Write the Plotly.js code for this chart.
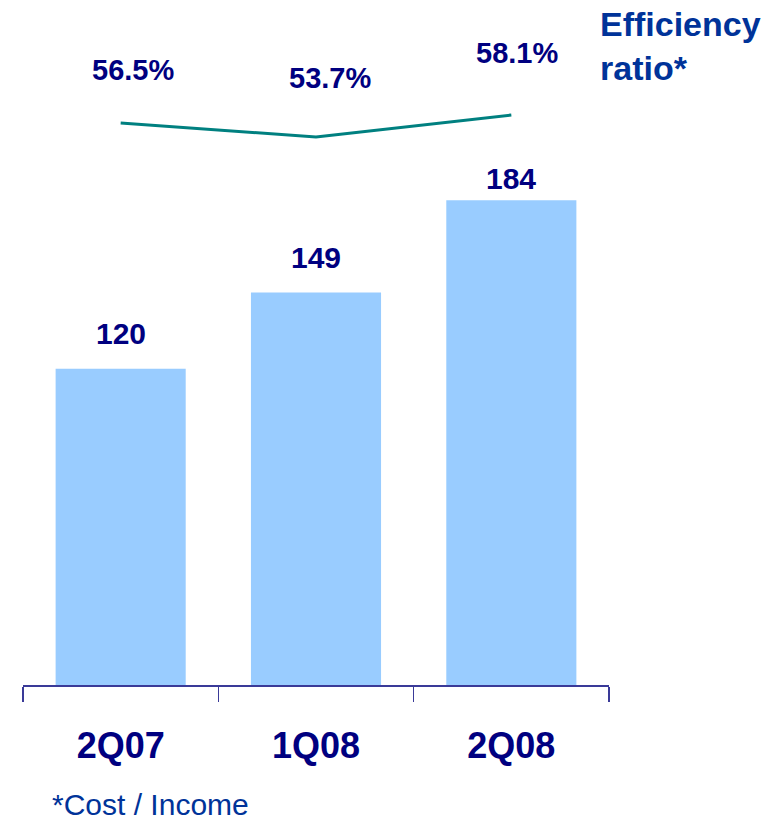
<!DOCTYPE html>
<html>
<head>
<meta charset="utf-8">
<script src="https://cdn.plot.ly/plotly-3.0.1.min.js"></script>
<style>
  html, body { margin: 0; padding: 0; background: #ffffff; }
  #chart { width: 784px; height: 821px; }
</style>
</head>
<body>
<div id="chart"></div>
<script>
// ---- data ----
const categories = ["2Q07", "1Q08", "2Q08"];
const costs = [120, 149, 184];
const efficiencyRatio = [56.5, 53.7, 58.1];
const ratioLabels = ["56.5%", "53.7%", "58.1%"];
const seriesTitle = "Efficiency<br>ratio*";
const footnote = "*Cost / Income";

// ---- styles ----
const NAVY = "#000080";
const BLUE = "#003399";
const BAR = "#99ccff";
const TEAL = "#008080";
const FONT = "Liberation Sans, Arial, sans-serif";
const barLabelShift = [35, 35, 22];
const ratioLabelShift = [53, 59, 62];
const ratioLabelXShift = [12, 14, 6];

const bars = {
  type: "bar",
  x: categories,
  y: costs,
  marker: { color: BAR },
  hoverinfo: "skip",
  showlegend: false
};

const line = {
  type: "scatter",
  mode: "lines",
  x: categories,
  y: efficiencyRatio,
  yaxis: "y2",
  line: { color: TEAL, width: 3 },
  hoverinfo: "skip",
  showlegend: false
};

const annotations = [];
categories.forEach((c, i) => {
  annotations.push({
    x: c, y: costs[i], xref: "x", yref: "y",
    text: String(costs[i]), showarrow: false,
    xanchor: "center", yanchor: "middle", yshift: barLabelShift[i],
    font: { family: FONT, size: 30, color: NAVY, weight: "bold" }
  });
  annotations.push({
    x: c, y: efficiencyRatio[i], xref: "x", yref: "y2",
    text: ratioLabels[i], showarrow: false,
    xanchor: "center", yanchor: "middle",
    yshift: ratioLabelShift[i], xshift: ratioLabelXShift[i],
    font: { family: FONT, size: 29, color: NAVY, weight: "bold" }
  });
});
annotations.push({
  x: 0.981, y: 1.0, xref: "paper", yref: "paper",
  text: seriesTitle, showarrow: false, align: "left",
  xanchor: "left", yanchor: "top", yshift: -3,
  font: { family: FONT, size: 34, color: BLUE, weight: "bold" }
});
annotations.push({
  x: 0.046, y: -0.175, xref: "paper", yref: "paper",
  text: footnote, showarrow: false,
  xanchor: "left", yanchor: "middle",
  font: { family: FONT, size: 30, color: BLUE }
});

const layout = {
  width: 784, height: 821,
  margin: { l: 23, r: 175, t: 0, b: 136 },
  paper_bgcolor: "#ffffff",
  plot_bgcolor: "#ffffff",
  bargap: 0.334,
  showlegend: false,
  xaxis: {
    type: "category",
    range: [-0.5, 2.5],
    showline: true, linecolor: "#3a3a98", linewidth: 1.5,
    ticks: "outside", tickson: "boundaries", ticklen: 15, tickwidth: 1.5, tickcolor: "#3a3a98",
    ticklabelstandoff: 28,
    tickfont: { family: FONT, size: 36, color: NAVY, weight: "bold" },
    showgrid: false, zeroline: false, fixedrange: true
  },
  yaxis: {
    range: [0, 260],
    visible: false, showgrid: false, zeroline: false, fixedrange: true
  },
  yaxis2: {
    overlaying: "y", side: "right",
    range: [-55.9, 81.1],
    visible: false, showgrid: false, zeroline: false, fixedrange: true
  },
  annotations: annotations
};

Plotly.newPlot("chart", [bars, line], layout, { displayModeBar: false, staticPlot: true });
</script>
</body>
</html>
